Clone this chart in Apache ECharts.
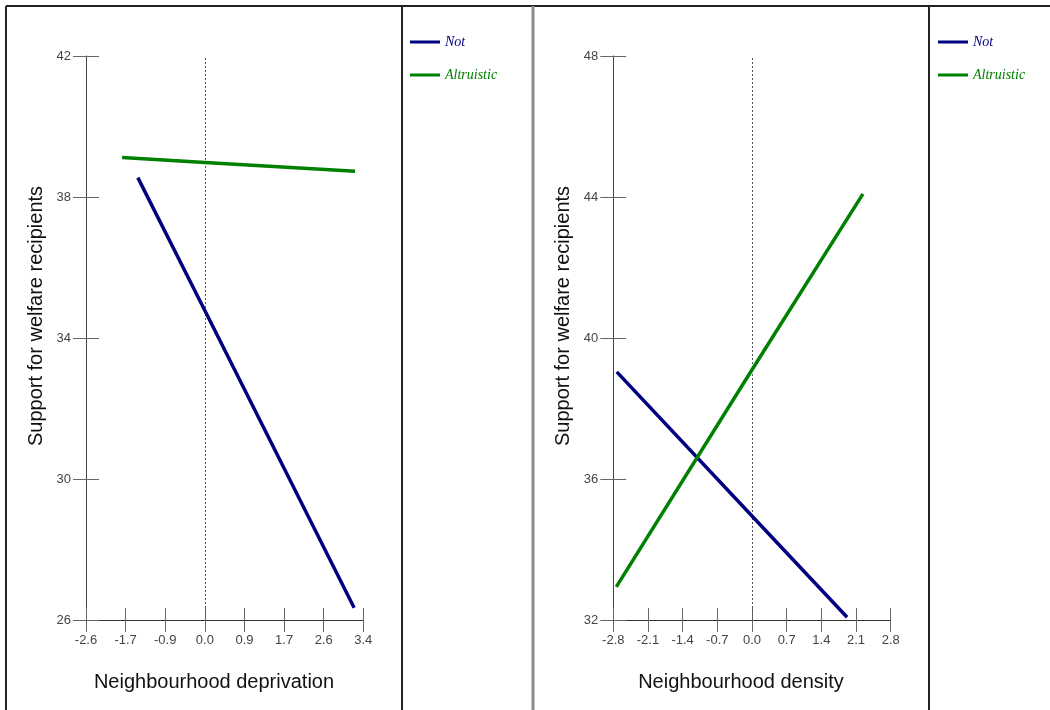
<!DOCTYPE html>
<html>
<head>
<meta charset="utf-8">
<script src="https://cdn.jsdelivr.net/npm/echarts@6/dist/echarts.min.js"></script>
<style>
html,body{margin:0;padding:0;background:#fff;}
#chart{width:1050px;height:710px;}
</style>
</head>
<body>
<div id="chart"></div>
<script>
// ---- data ----
var seriesNames = ['Not', 'Altruistic'];
var seriesColors = ['#000080', '#008000'];

// Panel 1: Neighbourhood deprivation
var depNotX = [-1.45, 0, 3.23];
var depNotY = [38.55, 34.78, 26.35];
var depAltX = [-1.79, 0, 3.25];
var depAltY = [39.12, 38.98, 38.73];

// Panel 2: Neighbourhood density
var denNotX = [-2.73, 0, 1.92];
var denNotY = [39.04, 34.95, 32.08];
var denAltX = [-2.74, 0, 2.24];
var denAltY = [32.94, 39.1, 44.09];

// axis settings
var depXStep = 6 / 7;              // tick labels shown rounded: -2.6 ... 3.4
var depXMin = -3 * depXStep, depXMax = 4 * depXStep;
var depYMin = 26, depYMax = 42, depYStep = 4;
var denXMin = -2.8, denXMax = 2.8, denXStep = 0.7;
var denYMin = 32, denYMax = 48, denYStep = 4;

var yTitle = 'Support for welfare recipients';
var xTitles = ['Neighbourhood deprivation', 'Neighbourhood density'];

function pairs(xs, ys) { return xs.map(function (x, i) { return [x, ys[i]]; }); }

var FONT = '"Liberation Sans", Arial, sans-serif';
var grids = [
  {left: 86, top: 56, width: 277.3, height: 564},
  {left: 613.3, top: 56, width: 277.4, height: 564}
];

function xAx(gi, min, max, step, outer) {
  return {
    type: 'value', gridIndex: gi, min: min, max: max, interval: step, position: 'bottom',
    axisLine: {show: outer, onZero: false, lineStyle: {color: '#333', width: 1}},
    axisTick: {show: true, inside: !outer, length: 12, lineStyle: {color: '#666', width: 1}},
    axisLabel: {show: outer, margin: 14, color: '#444', fontSize: 13, fontFamily: FONT,
      formatter: function (v) { var r = Math.round(v * 10) / 10; return (r === 0 ? 0 : r).toFixed(1); }},
    splitLine: {show: false}
  };
}
function yAx(gi, min, max, step, outer) {
  return {
    type: 'value', gridIndex: gi, min: min, max: max, interval: step, position: 'left',
    axisLine: {show: outer, onZero: false, lineStyle: {color: '#444', width: 1}},
    axisTick: {show: true, inside: !outer, length: 13, lineStyle: {color: '#666', width: 1}},
    axisLabel: {show: outer, margin: 15, color: '#444', fontSize: 13, fontFamily: FONT},
    splitLine: {show: false}
  };
}

function lineSeries(name, color, data, xi, yi, withZero) {
  var s = {
    name: name, type: 'line', xAxisIndex: xi, yAxisIndex: yi, data: data,
    symbol: 'none', lineStyle: {color: color, width: 3.5}, itemStyle: {color: color},
    silent: true, z: 3
  };
  if (withZero) {
    s.markLine = {
      silent: true, symbol: 'none', label: {show: false},
      lineStyle: {type: [2, 2], color: '#555', width: 1},
      data: [{xAxis: 0}], z: 1
    };
  }
  return s;
}

var chart = echarts.init(document.getElementById('chart'), null, {renderer: 'canvas'});

var legendData = seriesNames.map(function (n, i) {
  return {name: n, textStyle: {color: seriesColors[i]}};
});
function legend(left) {
  return {
    orient: 'vertical', left: left, top: 30, itemGap: 19,
    itemWidth: 30, itemHeight: 3, icon: 'rect',
    selectedMode: false,
    textStyle: {fontFamily: '"Liberation Serif", "Times New Roman", serif', fontStyle: 'italic', fontSize: 14},
    data: legendData
  };
}

function txt(x, y, s, rot) {
  return {
    type: 'text', x: x, y: y, rotation: rot || 0,
    style: {text: s, fill: '#111', font: '20px ' + FONT, align: 'center', verticalAlign: 'middle'}
  };
}
function vline(x, y1, y2, w, c) {
  return {type: 'line', shape: {x1: x, y1: y1, x2: x, y2: y2}, style: {stroke: c, lineWidth: w}};
}

chart.setOption({
  animation: false,
  backgroundColor: '#fff',
  grid: grids,
  xAxis: [
    xAx(0, depXMin, depXMax, depXStep, true),
    xAx(0, depXMin, depXMax, depXStep, false),
    xAx(1, denXMin, denXMax, denXStep, true),
    xAx(1, denXMin, denXMax, denXStep, false)
  ],
  yAxis: [
    yAx(0, depYMin, depYMax, depYStep, true),
    yAx(0, depYMin, depYMax, depYStep, false),
    yAx(1, denYMin, denYMax, denYStep, true),
    yAx(1, denYMin, denYMax, denYStep, false)
  ],
  legend: [legend(405), legend(933)],
  series: [
    lineSeries(seriesNames[0], seriesColors[0], pairs(depNotX, depNotY), 0, 0, true),
    lineSeries(seriesNames[1], seriesColors[1], pairs(depAltX, depAltY), 0, 0, false),
    lineSeries(seriesNames[0], seriesColors[0], pairs(denNotX, denNotY), 2, 2, true),
    lineSeries(seriesNames[1], seriesColors[1], pairs(denAltX, denAltY), 2, 2, false)
  ],
  graphic: [
    {type: 'line', shape: {x1: 6, y1: 6, x2: 1050, y2: 6}, style: {stroke: '#222', lineWidth: 2}},
    vline(6, 6, 710, 2, '#222'),
    vline(402, 6, 710, 2, '#222'),
    vline(533, 6, 710, 3, '#8a8a8a'),
    vline(929, 6, 710, 2, '#222'),
    txt(36, 316, yTitle, Math.PI / 2),
    txt(563, 316, yTitle, Math.PI / 2),
    txt(214, 682, xTitles[0]),
    txt(741, 682, xTitles[1])
  ]
});
</script>
</body>
</html>
